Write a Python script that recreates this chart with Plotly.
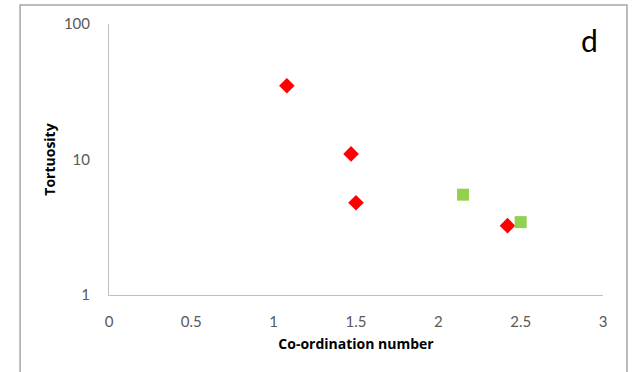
import plotly.graph_objects as go

red_x = [1.08, 1.47, 1.50, 2.42]
red_y = [35.0, 11.0, 4.8, 3.25]
green_x = [2.15, 2.50]
green_y = [5.5, 3.45]

x_ticks = [0, 0.5, 1, 1.5, 2, 2.5, 3]
x_labels = ["0", "0.5", "1", "1.5", "2", "2.5", "3"]
y_ticks = [1, 10, 100]
y_labels = ["1", "10", "100"]

fig = go.Figure()
fig.add_trace(go.Scatter(x=red_x, y=red_y, mode="markers",
                         marker=dict(symbol="diamond", size=12, color="#ff0000"),
                         showlegend=False))
fig.add_trace(go.Scatter(x=green_x, y=green_y, mode="markers",
                         marker=dict(symbol="square", size=12, color="#92d050"),
                         showlegend=False))

tickfont = dict(family="Lato, Open Sans, sans-serif", size=15, color="#595959")
titlefont = dict(family="Open Sans, sans-serif", size=14, color="#000000")

fig.update_layout(
    width=635, height=372,
    margin=dict(l=109, r=32, t=24, b=77),
    paper_bgcolor="white", plot_bgcolor="white",
    xaxis=dict(range=[0, 3], tickvals=x_ticks, ticktext=x_labels,
               showgrid=False, zeroline=False, showline=True,
               linecolor="#bfbfbf", linewidth=1, ticks="",
               tickfont=tickfont, ticklabelstandoff=13,
               title=dict(text="<b>Co-ordination number</b>", font=titlefont, standoff=10)),
    yaxis=dict(type="log", range=[0, 2], tickvals=y_ticks, ticktext=y_labels,
               showgrid=False, zeroline=False, showline=True,
               linecolor="#bfbfbf", linewidth=1, ticks="",
               tickfont=tickfont, ticklabelstandoff=15,
               title=dict(text="<b>Tortuosity</b>", font=titlefont, standoff=4)),
    shapes=[dict(type="rect", xref="paper", yref="paper",
                 x0=-0.180, x1=1.0486, y0=-0.4, y1=1.070,
                 line=dict(color="#a6a6a6", width=1.5), fillcolor="rgba(0,0,0,0)",
                 layer="below")],
    annotations=[dict(text="d", xref="paper", yref="paper", x=(589 - 109) / 494,
                      y=(295 - 40) / 271, yanchor="middle", xanchor="center", showarrow=False,
                      font=dict(family="Lato, Open Sans, sans-serif", size=30, color="#000000"))],
)

fig.write_html("out.html")
